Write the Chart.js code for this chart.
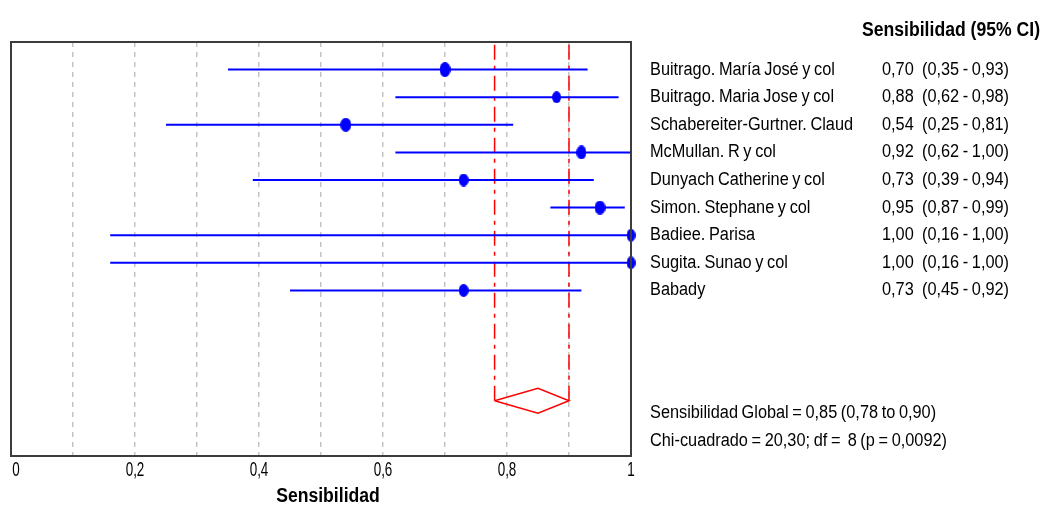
<!DOCTYPE html>
<html>
<head>
<meta charset="utf-8">
<script src="https://cdn.jsdelivr.net/npm/chart.js@4.4.1/dist/chart.umd.min.js"></script>
<style>
  html, body { margin: 0; padding: 0; background: #ffffff; }
  #wrap { width: 1045px; height: 506px; position: relative; }
</style>
</head>
<body>
<div id="wrap"><canvas id="c" width="1045" height="506"></canvas></div>
<script>
// ---- data ----
const studies = [
  "Buitrago. María José y col",
  "Buitrago. Maria Jose y col",
  "Schabereiter-Gurtner. Claud",
  "McMullan. R y col",
  "Dunyach Catherine y col",
  "Simon. Stephane y col",
  "Badiee. Parisa",
  "Sugita. Sunao y col",
  "Babady"
];
const sens   = [0.70, 0.88, 0.54, 0.92, 0.73, 0.95, 1.00, 1.00, 0.73];
const ciLow  = [0.35, 0.62, 0.25, 0.62, 0.39, 0.87, 0.16, 0.16, 0.45];
const ciHigh = [0.93, 0.98, 0.81, 1.00, 0.94, 0.99, 1.00, 1.00, 0.92];
const pooled = { est: 0.85, low: 0.78, high: 0.90 };
const heterogeneity = { chi: "20,30", df: 8, p: "0,0092" };
const xTicks = [0, 0.2, 0.4, 0.6, 0.8, 1];
const headerText = "Sensibilidad (95% CI)";
const axisTitle = "Sensibilidad";

// ---- style ----
const markerSizes = [[11, 15], [9, 12], [11, 14], [10, 14], [10, 13], [11, 14], [9, 13], [9, 13], [10, 13]];
const FONT = '"Liberation Sans", Arial, sans-serif';

// ---- helpers ----
const fmt = v => v.toFixed(2).replace('.', ',');
const pooledRow = studies.length + 3;

function ellipseMarker(w, h) {
  const cv = document.createElement('canvas');
  cv.width = w; cv.height = h;
  const g = cv.getContext('2d');
  g.fillStyle = '#0000ff';
  g.beginPath();
  g.ellipse(w / 2, h / 2, w / 2, h / 2, 0, 0, Math.PI * 2);
  g.fill();
  return cv;
}

// draw condensed text by horizontal scaling
function narrowText(ctx, text, x, y, font, sx, align, ws) {
  ctx.save();
  ctx.font = font;
  if ('wordSpacing' in ctx) ctx.wordSpacing = (ws || 0) + 'px';
  ctx.textBaseline = 'middle';
  const w = ctx.measureText(text).width * sx;
  let x0 = x;
  if (align === 'center') x0 = x - w / 2;
  else if (align === 'right') x0 = x - w;
  ctx.translate(x0, y);
  ctx.scale(sx, 1);
  ctx.textAlign = 'left';
  ctx.fillText(text, 0, 0);
  ctx.restore();
}
function measure(ctx, text, font, ws) {
  ctx.save();
  ctx.font = font;
  if ('wordSpacing' in ctx) ctx.wordSpacing = (ws || 0) + 'px';
  const w = ctx.measureText(text).width;
  ctx.restore();
  return w;
}

const datasets = [];
studies.forEach((s, i) => {
  datasets.push({
    type: 'line',
    data: [{ x: ciLow[i], y: i }, { x: ciHigh[i], y: i }],
    borderColor: '#0000ff',
    borderWidth: 2,
    pointRadius: 0,
    fill: false
  });
});
datasets.push({
  type: 'scatter',
  data: sens.map((v, i) => ({ x: v, y: i })),
  pointStyle: markerSizes.map(([w, h]) => ellipseMarker(w, h)),
  pointRadius: 6,
  clip: false
});
[pooled.low, pooled.high].forEach(v => {
  datasets.push({
    type: 'line',
    data: [{ x: v, y: -0.9 }, { x: v, y: pooledRow }],
    borderColor: '#ff0000',
    borderWidth: 1.5,
    borderDash: [15, 6, 4, 6],
    pointRadius: 0,
    fill: false
  });
});
datasets.push({
  type: 'line',
  data: [
    { x: pooled.low, y: pooledRow },
    { x: pooled.est, y: pooledRow - 0.45 },
    { x: pooled.high, y: pooledRow },
    { x: pooled.est, y: pooledRow + 0.45 },
    { x: pooled.low, y: pooledRow }
  ],
  borderColor: '#ff0000',
  borderWidth: 1.5,
  pointRadius: 0,
  tension: 0,
  fill: false
});

const framePlugin = {
  id: 'frame',
  afterDatasetsDraw(chart) {
    const { ctx, chartArea: a } = chart;
    ctx.save();
    ctx.strokeStyle = '#3c3c3c';
    ctx.lineWidth = 2;
    ctx.strokeRect(a.left, a.top, a.right - a.left, a.bottom - a.top);
    ctx.restore();
  }
};

const textPlugin = {
  id: 'sidetext',
  afterDraw(chart) {
    const { ctx } = chart;
    const y = chart.scales.y;
    const x = chart.scales.x;
    ctx.save();
    ctx.fillStyle = '#000000';

    const reg = '18px ' + FONT;
    const bold = 'bold 20px ' + FONT;
    const WS = -1;
    const sxReg = (187 + 201) / (measure(ctx, studies[0], reg, WS) + measure(ctx, studies[2], reg, WS));
    const sxBold = 178 / measure(ctx, headerText, bold, 0);

    narrowText(ctx, headerText, 862, 30, bold, sxBold, 'left');
    studies.forEach((s, i) => {
      const py = y.getPixelForValue(i);
      narrowText(ctx, s, 650, py, reg, sxReg, 'left', WS);
      narrowText(ctx, fmt(sens[i]), 882, py, reg, sxReg, 'left', WS);
      narrowText(ctx, '(' + fmt(ciLow[i]) + ' - ' + fmt(ciHigh[i]) + ')', 922, py, reg, sxReg, 'left', WS);
    });
    narrowText(ctx, 'Sensibilidad Global = ' + fmt(pooled.est) + ' (' + fmt(pooled.low) + ' to ' + fmt(pooled.high) + ')',
      650, y.getPixelForValue(pooledRow + 0.45), reg, sxReg, 'left', WS);
    narrowText(ctx, 'Chi-cuadrado = ' + heterogeneity.chi + '; df =  ' + heterogeneity.df + ' (p = ' + heterogeneity.p + ')',
      650, y.getPixelForValue(pooledRow + 1.47), reg, sxReg, 'left', WS);

    // x tick labels
    const tickFont = '21px ' + FONT;
    xTicks.forEach(t => {
      const lbl = (t === 0 || t === 1) ? String(t) : t.toFixed(1).replace('.', ',');
      let px = x.getPixelForValue(t);
      if (t === 0) px += 5;
      narrowText(ctx, lbl, px, 470, tickFont, 0.64, 'center');
    });
    // axis title
    narrowText(ctx, axisTitle, (x.left + x.right) / 2 + 7, 496, bold, sxBold, 'center');
    ctx.restore();
  }
};

new Chart(document.getElementById('c'), {
  type: 'scatter',
  data: { datasets },
  options: {
    responsive: false,
    animation: false,
    devicePixelRatio: 1,
    layout: { padding: { left: 11, top: 42, right: 414, bottom: 0 } },
    plugins: { legend: { display: false }, tooltip: { enabled: false } },
    scales: {
      x: {
        type: 'linear',
        min: 0, max: 1,
        afterFit(s) { s.height = 50; },
        ticks: { stepSize: 0.1, autoSkip: false, display: false },
        grid: {
          drawTicks: false,
          lineWidth: 1.5,
          color(ctx) {
            const v = ctx.tick ? ctx.tick.value : 0;
            return (Math.abs(v) < 1e-9 || Math.abs(v - 1) < 1e-9) ? 'rgba(0,0,0,0)' : '#c4c4c4';
          }
        },
        border: { display: false, dash: [5, 5] },
        title: { display: false }
      },
      y: {
        type: 'linear',
        min: -1, max: 14,
        reverse: true,
        display: false
      }
    }
  },
  plugins: [framePlugin, textPlugin]
});
</script>
</body>
</html>
